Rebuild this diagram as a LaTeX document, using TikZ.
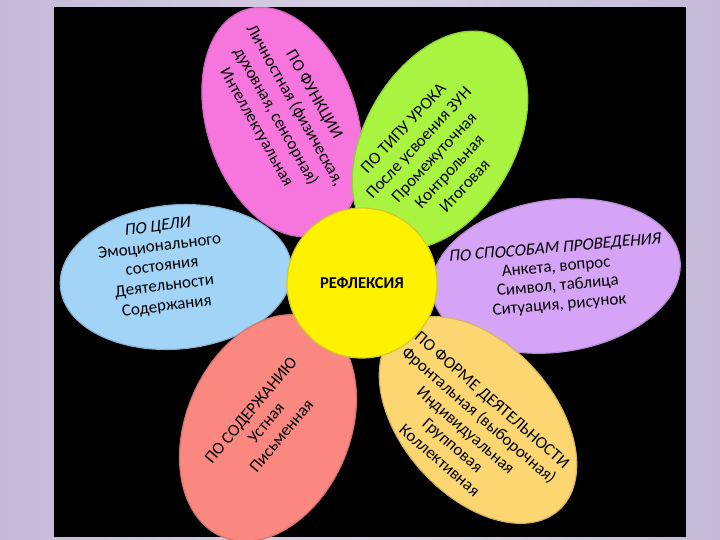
\documentclass[tikz,border=0pt]{standalone}
\usepackage{fontspec}
\setmainfont{Carlito}
\newfontfamily\headslant[FakeSlant=0.2]{Carlito}
\usetikzlibrary{shapes.geometric}

\definecolor{petalpink}{RGB}{246,118,222}
\definecolor{petalgreen}{RGB}{168,244,64}
\definecolor{petalviolet}{RGB}{214,164,246}
\definecolor{petalblue}{RGB}{162,212,248}
\definecolor{petalsalmon}{RGB}{250,136,128}
\definecolor{petalorange}{RGB}{252,214,112}
\definecolor{bglavender}{RGB}{196,186,216}
\definecolor{bglight}{RGB}{216,208,228}

\tikzset{
  petal/.style={ellipse, inner sep=0pt, outer sep=0pt, line width=1.2pt},
  petaltext/.style={align=center, text=black, font=\fontsize{17}{#1}\selectfont},
  petaltext/.default=20
}

\begin{document}
\begin{tikzpicture}[x=1pt, y=-1pt]
    \useasboundingbox (0,0) rectangle (720,540);
    % background and black board
    \fill[left color=bglavender, right color=bglavender, middle color=bglight] 
    (0,0) rectangle (720,540);
    \fill[black] (54,7) rectangle (686,537);

    % Draw the six petals
    \node[petal, fill=petalpink, draw=petalpink!85!black, 
          minimum width=150, minimum height=236, rotate=18] (funkcii) at (282,122) {};
    \node[petal, fill=petalgreen, draw=petalgreen!85!black, 
          minimum width=150, minimum height=236, rotate=-30] (urok) at (440,140) {};
    \node[petal, fill=petalviolet, draw=petalviolet!85!black, 
          minimum width=250, minimum height=152, rotate=8] (sposob) at (556,276) {};
    \node[petal, fill=petalblue, draw=petalblue!85!black, 
          minimum width=232, minimum height=144, rotate=5] (cel) at (176,277) {};
    \node[petal, fill=petalsalmon, draw=petalsalmon!85!black, 
          minimum width=164, minimum height=236, rotate=-23] (soderzh) at (268,428) {};
    \node[petal, fill=petalorange, draw=petalorange!85!black, 
          minimum width=152, minimum height=242, rotate=42] (forma) at (478,420) {};

    % Texts on the petals
    \node[petaltext=22, rotate=-60.5] (funkciitxt) at (285,111) 
    {ПО ФУНКЦИИ\\Личностная (физическая,\\духовная, сенсорная)\\Интеллектуальная};
    \node[petaltext=21, rotate=47] (uroktxt) at (434,157) 
    {ПО ТИПУ УРОКА\\После усвоения ЗУН\\Промежуточная\\Контрольная\\Итоговая};
    \node[petaltext=19, rotate=5] (sposobtxt) at (557,277) 
    {{\headslant ПО СПОСОБАМ ПРОВЕДЕНИЯ}\\Анкета, вопрос\\Символ, таблица\\Ситуация, рисунок};
    \node[petaltext=20, rotate=7] (celtxt) at (162,267) 
    {{\headslant ПО ЦЕЛИ}\\Эмоционального\\состояния\\Деятельности\\Содержания};
    \node[petaltext=20, rotate=50] (soderzhtxt) at (266,423) 
    {ПО СОДЕРЖАНИЮ\\Устная\\Письменная};
    \node[petaltext=20, rotate=-41] (formatxt) at (466,430) 
    {ПО ФОРМЕ ДЕЯТЕЛЬНОСТИ\\Фронтальная (выборочная)\\Индивидуальная\\Групповая\\Коллективная};

    %Draw the centre of the flower
    \node[circle, fill=yellow, draw=yellow!80!black, line width=1.2pt, 
          minimum size=150, inner sep=0pt, font=\fontsize{16.5}{19}\selectfont\bfseries] 
          (refleksiya) at (362,283) {РЕФЛЕКСИЯ};
\end{tikzpicture}
\end{document}
